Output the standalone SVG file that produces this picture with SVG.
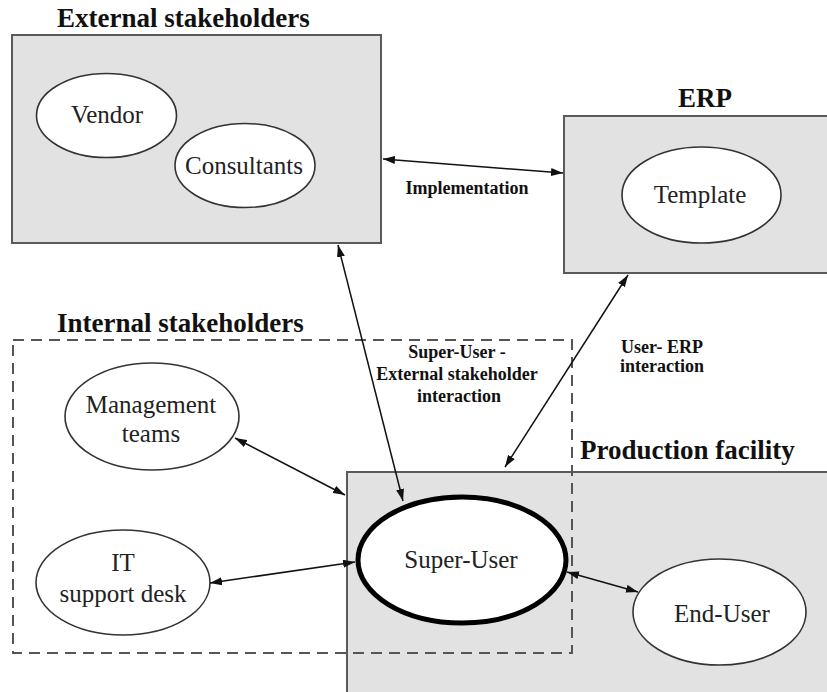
<svg xmlns="http://www.w3.org/2000/svg" width="827" height="692" viewBox="0 0 827 692">
  <style>
    .box { fill: #e2e2e2; stroke: #5a5a5a; stroke-width: 2; }
    .dash { fill: none; stroke: #555; stroke-width: 2; stroke-dasharray: 11 7; }
    .node { fill: #fff; stroke: #333; stroke-width: 1.6; }
    .hub { fill: #fff; stroke: #000; stroke-width: 5; }
    .title { font-family: "Liberation Serif", "Times New Roman", serif; font-weight: bold; font-size: 27px; fill: #111; }
    .txt { font-family: "Liberation Serif", "Times New Roman", serif; font-size: 25px; fill: #222; text-anchor: middle; }
    .lbl { font-family: "Liberation Serif", "Times New Roman", serif; font-weight: bold; font-size: 18px; fill: #111; text-anchor: middle; }
    .link { stroke: #111; stroke-width: 1.5; fill: none; marker-start: url(#tip); marker-end: url(#tip); }
  </style>
  <defs>
    <marker id="tip" viewBox="0 0 12 8" refX="12" refY="4" markerWidth="12" markerHeight="8" markerUnits="userSpaceOnUse" orient="auto-start-reverse">
      <path d="M0,0 L12,4 L0,8 Z" fill="#111"/>
    </marker>
  </defs>

  <!-- External stakeholders -->
  <g id="external">
    <text class="title" x="57" y="27">External stakeholders</text>
    <rect class="box" x="12" y="35" width="369" height="208"/>
    <g id="vendor">
      <ellipse class="node" cx="106.5" cy="115.5" rx="70" ry="42"/>
      <text class="txt" x="107" y="123" font-size="26">Vendor</text>
    </g>
    <g id="consultants">
      <ellipse class="node" cx="245" cy="165.5" rx="70" ry="42"/>
      <text class="txt" x="244" y="174">Consultants</text>
    </g>
  </g>

  <!-- ERP -->
  <g id="erp">
    <text class="title" x="705" y="107" text-anchor="middle">ERP</text>
    <path class="box" d="M830,116 H564 V273 H830"/>
    <g id="template">
      <ellipse class="node" cx="701.5" cy="195" rx="79.5" ry="48"/>
      <text class="txt" x="700" y="203" font-size="26">Template</text>
    </g>
  </g>

  <!-- Production facility -->
  <g id="production">
    <text class="title" x="580" y="459">Production facility</text>
    <path class="box" d="M830,472 H347 V695"/>
    <rect x="348" y="473" width="482" height="222" fill="#e2e2e2"/>
  </g>

  <!-- Internal stakeholders -->
  <g id="internal">
    <text class="title" x="57" y="332">Internal stakeholders</text>
    <rect class="dash" x="13" y="340" width="559" height="313"/>
    <g id="management">
      <ellipse class="node" cx="152" cy="416.5" rx="87" ry="53.5"/>
      <text class="txt" x="151" y="413">Management</text>
      <text class="txt" x="151" y="442">teams</text>
    </g>
    <g id="itdesk">
      <ellipse class="node" cx="123" cy="582.5" rx="87" ry="52.5"/>
      <text class="txt" x="123" y="571">IT</text>
      <text class="txt" x="123" y="602">support desk</text>
    </g>
  </g>

  <g id="superuser">
    <ellipse class="hub" cx="462" cy="560" rx="104" ry="63"/>
    <text class="txt" x="461" y="568" font-size="27">Super-User</text>
  </g>

  <g id="enduser">
    <ellipse class="node" cx="719.5" cy="612" rx="86.5" ry="53"/>
    <text class="txt" x="722" y="622" font-size="27">End-User</text>
  </g>

  <!-- Connectors -->
  <g id="connectors">
    <line class="link" x1="383" y1="159" x2="563" y2="173"/>
    <line class="link" x1="338" y1="245" x2="403" y2="501" stroke-width="1.2"/>
    <line class="link" x1="628" y1="275" x2="505" y2="467"/>
    <line class="link" x1="235" y1="438" x2="345" y2="495"/>
    <line class="link" x1="210" y1="583" x2="355" y2="562"/>
    <line class="link" x1="567" y1="572" x2="638" y2="592"/>
  </g>

  <!-- Connector labels -->
  <g id="labels">
    <text class="lbl" x="467" y="194">Implementation</text>
    <text class="lbl" x="457" y="358">Super-User -</text>
    <text class="lbl" x="457" y="380">External stakeholder</text>
    <text class="lbl" x="459" y="402">interaction</text>
    <text class="lbl" x="662" y="353">User- ERP</text>
    <text class="lbl" x="662" y="372">interaction</text>
  </g>
</svg>
